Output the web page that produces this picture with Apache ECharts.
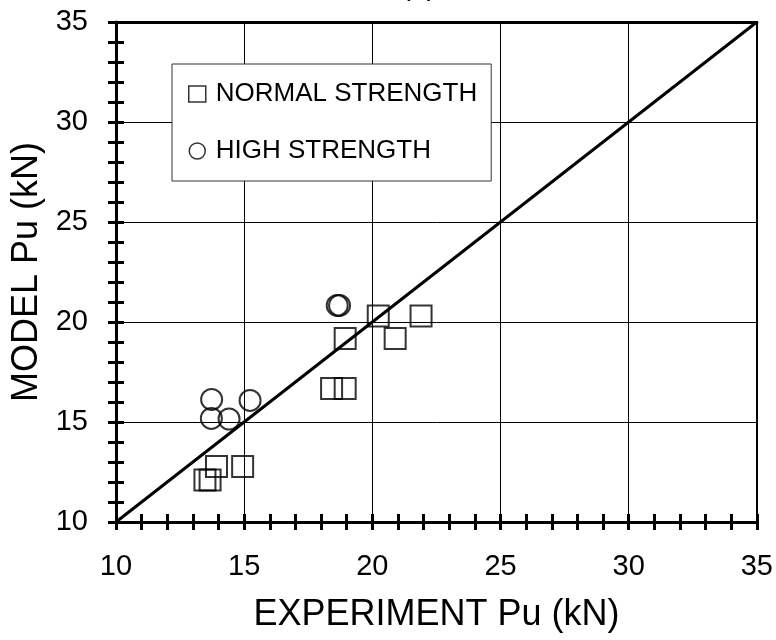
<!DOCTYPE html>
<html>
<head>
<meta charset="utf-8">
<script src="https://cdn.jsdelivr.net/npm/echarts@6/dist/echarts.min.js"></script>
<style>
html,body{margin:0;padding:0;background:#fff;}
#chart{width:776px;height:640px;}
</style>
</head>
<body>
<div id="chart"></div>
<script>
// ---- data ----
const chartTitle = '(a)';
const xAxisName = 'EXPERIMENT Pu (kN)';
const yAxisName = 'MODEL Pu (kN)';
const axisMin = 10;
const axisMax = 35;
const majorStep = 5;
const normalName = 'NORMAL STRENGTH';
const highName = 'HIGH STRENGTH';
// [experiment, model]
const normalStrength = [
  [13.47, 12.10], [13.67, 12.10], [13.92, 12.78], [14.94, 12.78],
  [18.41, 16.68], [18.94, 16.68], [18.94, 19.18], [20.89, 19.18],
  [20.23, 20.30], [21.90, 20.30]
];
const highStrength = [
  [13.73, 16.13], [13.72, 15.18], [14.41, 15.15], [15.23, 16.08],
  [18.63, 20.83], [18.72, 20.83]
];
const equalityLine = [[10, 10], [35, 35]];

// ---- chart ----
const FONT = 'Liberation Sans, Arial, sans-serif';
const black = '#000';
const tickStyle = { color: black, width: 3 };

function baseAxis(extra) {
  return Object.assign({
    type: 'value', min: axisMin, max: axisMax, interval: majorStep
  }, extra);
}

const chart = echarts.init(document.getElementById('chart'), null, { renderer: 'canvas' });
chart.setOption({
  animation: false,
  backgroundColor: '#fff',
  title: {
    text: chartTitle, left: 396, top: -33,
    textStyle: { fontFamily: FONT, fontSize: 29, fontWeight: 'normal', color: black }
  },
  grid: { left: 116, right: 19, top: 22, bottom: 118, containLabel: false },
  legend: {
    orient: 'vertical', left: 172, top: 64,
    padding: [17, 14, 17, 16], itemGap: 31,
    itemWidth: 17, itemHeight: 16,
    borderColor: '#333', borderWidth: 1, backgroundColor: '#fff',
    textStyle: { fontFamily: FONT, fontSize: 26, color: black, padding: [0, 0, 0, 5] },
    itemStyle: { color: 'transparent', borderColor: black, borderWidth: 1.5 },
    data: [{ name: normalName, icon: 'rect' }, { name: highName, icon: 'circle' }]
  },
  xAxis: [
    baseAxis({
      position: 'bottom',
      name: xAxisName, nameLocation: 'middle', nameGap: 75,
      nameTextStyle: { fontFamily: FONT, fontSize: 36, color: black },
      axisLine: { show: true, lineStyle: { color: black, width: 3 } },
      axisTick: { show: true, inside: false, length: 8, lineStyle: tickStyle },
      minorTick: { show: true, splitNumber: 5, length: 8, lineStyle: tickStyle },
      splitLine: { show: true, lineStyle: { color: black, width: 1 } },
      axisLabel: { fontFamily: FONT, fontSize: 29, color: black, margin: 30 }
    }),
    baseAxis({
      position: 'bottom',
      axisLine: { show: false },
      axisTick: { show: true, inside: true, length: 8, lineStyle: tickStyle },
      minorTick: { show: true, splitNumber: 5, length: 8, lineStyle: tickStyle },
      splitLine: { show: false },
      axisLabel: { show: false }
    }),
    baseAxis({
      position: 'top',
      axisLine: { show: true, lineStyle: { color: black, width: 3 } },
      axisTick: { show: false }, splitLine: { show: false }, axisLabel: { show: false }
    })
  ],
  yAxis: [
    baseAxis({
      position: 'left',
      name: yAxisName, nameLocation: 'middle', nameGap: 70,
      nameTextStyle: { fontFamily: FONT, fontSize: 36, color: black },
      axisLine: { show: true, lineStyle: { color: black, width: 3 } },
      axisTick: { show: true, inside: false, length: 8, lineStyle: tickStyle },
      minorTick: { show: true, splitNumber: 5, length: 8, lineStyle: tickStyle },
      splitLine: { show: true, lineStyle: { color: black, width: 1 } },
      axisLabel: { fontFamily: FONT, fontSize: 29, color: black, margin: 28 }
    }),
    baseAxis({
      position: 'left',
      axisLine: { show: false },
      axisTick: { show: true, inside: true, length: 8, lineStyle: tickStyle },
      minorTick: { show: true, splitNumber: 5, length: 8, lineStyle: tickStyle },
      splitLine: { show: false },
      axisLabel: { show: false }
    }),
    baseAxis({
      position: 'right',
      axisLine: { show: true, lineStyle: { color: black, width: 2 } },
      axisTick: { show: false }, splitLine: { show: false }, axisLabel: { show: false }
    })
  ],
  series: [
    {
      name: normalName, type: 'scatter', xAxisIndex: 0, yAxisIndex: 0,
      symbol: 'rect', symbolSize: 21,
      itemStyle: { color: 'transparent', borderColor: black, borderWidth: 2 },
      data: normalStrength
    },
    {
      name: highName, type: 'scatter', xAxisIndex: 0, yAxisIndex: 0,
      symbol: 'circle', symbolSize: 21,
      itemStyle: { color: 'transparent', borderColor: black, borderWidth: 2 },
      data: highStrength
    },
    {
      name: 'equality', type: 'line', xAxisIndex: 0, yAxisIndex: 0,
      showSymbol: false, symbol: 'none',
      lineStyle: { color: black, width: 3 },
      data: equalityLine, z: 5
    }
  ]
});
</script>
</body>
</html>
